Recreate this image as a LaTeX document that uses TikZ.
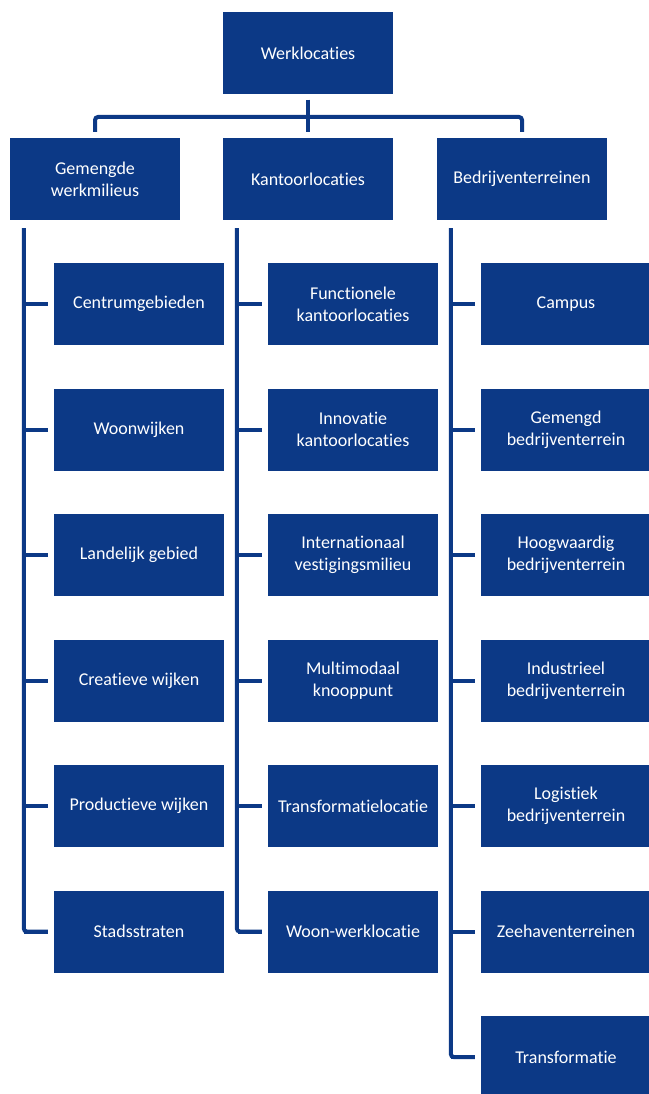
\documentclass[tikz,border=0pt]{standalone}
\usepackage{fontspec}
\setmainfont{Carlito}[Ligatures=NoCommon]
\usetikzlibrary{positioning,calc}
\definecolor{boxcolor}{RGB}{12,57,134}

\begin{document}
\begin{tikzpicture}[x=1pt,y=-1pt,
    box/.style={fill=boxcolor,text=white,minimum width=170pt,minimum height=82pt,
        inner sep=0pt,align=center,font=\fontsize{18}{22}\selectfont},
    link/.style={draw=boxcolor,line width=4pt,rounded corners=3pt}]
    \useasboundingbox (0,0) rectangle (648,1094);

    % Top and the three main groups
    \node[box] (top) at (308,53.5) {Werklocaties};
    \node[box] (gem) at (95,179) {Gemengde\\werkmilieus};
    \node[box] (kan) at (308,179) {Kantoorlocaties};
    \node[box] (bed) at (522,179) {Bedrijventerreinen};

    \coordinate (hub) at (308,117);
    \draw[link] ($(gem.north)+(0,-6)$) |- (hub) -| ($(bed.north)+(0,-6)$);
    \draw[link] ($(top.south)+(0,5)$) -- ($(kan.north)+(0,-6)$);

    % Children per column
    \foreach \i/\txt in {1/Centrumgebieden, 2/Woonwijken, 3/Landelijk gebied,
        4/Creatieve wijken, 5/Productieve wijken, 6/Stadsstraten}{
        \node[box] (g\i) at (139,{178.5+125.5*\i}) {\txt};
        \draw[link] ($(g\i.west)+(-30,0)$) -- ($(g\i.west)+(-6,0)$);
    }
    \foreach \i/\txt in {1/{Functionele\\kantoorlocaties}, 2/{Innovatie\\kantoorlocaties},
        3/{Internationaal\\vestigingsmilieu}, 4/{Multimodaal\\knooppunt},
        5/Transformatielocatie, 6/Woon-werklocatie}{
        \node[box] (k\i) at (353,{178.5+125.5*\i}) {\txt};
        \draw[link] ($(k\i.west)+(-30,0)$) -- ($(k\i.west)+(-6,0)$);
    }
    \foreach \i/\txt in {1/Campus, 2/{Gemengd\\bedrijventerrein}, 3/{Hoogwaardig\\bedrijventerrein},
        4/{Industrieel\\bedrijventerrein}, 5/{Logistiek\\bedrijventerrein},
        6/Zeehaventerreinen, 7/Transformatie}{
        \node[box] (b\i) at (566,{178.5+125.5*\i}) {\txt};
        \draw[link] ($(b\i.west)+(-30,0)$) -- ($(b\i.west)+(-6,0)$);
    }

    % Trunks
    \draw[link] ($(gem.south west)+(14,8)$) |- ($(g6.west)+(-6,0)$);
    \draw[link] ($(kan.south west)+(14,8)$) |- ($(k6.west)+(-6,0)$);
    \draw[link] ($(bed.south west)+(14,8)$) |- ($(b7.west)+(-6,0)$);
\end{tikzpicture}
\end{document}
